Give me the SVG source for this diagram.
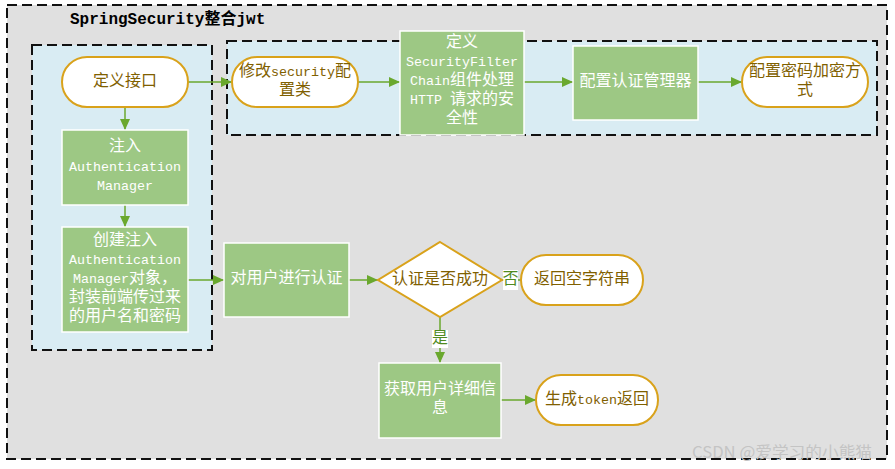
<svg xmlns="http://www.w3.org/2000/svg" width="895" height="469" viewBox="0 0 895 469">
<defs>
<style>
.grp{stroke:#111;stroke-width:2;stroke-dasharray:10,5}
.t{font-family:"Liberation Mono","Noto Sans CJK SC",monospace;font-size:16px;text-anchor:middle;dominant-baseline:central}
.l{font-size:13.33px}
.dark{fill:#7f6000}
.wh{fill:#ffffff}
.term{fill:#ffffff;stroke:#d9a21b;stroke-width:2}
.proc{fill:#9dc884;stroke:#ffffff;stroke-width:1.5}
.conn{stroke:#6aa82e;stroke-width:1.5;fill:none}
.lab{fill:#4f8a1f}
</style>
<marker id="arr" markerUnits="userSpaceOnUse" markerWidth="11" markerHeight="10" refX="11" refY="5" orient="auto">
<path d="M0,0 L11,5 L0,10 z" fill="#6aa82e"/>
</marker>
</defs>
<rect x="0" y="0" width="895" height="469" fill="#ffffff"/>
<g id="outer">
<rect x="7" y="5" width="880" height="454" fill="#e0e0e0" class="grp"/>
<text x="70" y="20" class="t" style="text-anchor:start;font-weight:bold" fill="#000">SpringSecurity整合jwt</text>
</g>
<g id="group-left"><rect x="32" y="45" width="180" height="305" fill="#d9ecf3" class="grp"/></g>
<g id="group-top"><rect x="227" y="41" width="650" height="94" fill="#d9ecf3" class="grp"/></g>

<g id="connectors">
<line x1="125" y1="107" x2="125" y2="130" class="conn" marker-end="url(#arr)"/>
<line x1="125" y1="205" x2="125" y2="227" class="conn" marker-end="url(#arr)"/>
<line x1="188" y1="82" x2="232" y2="82" class="conn" marker-end="url(#arr)"/>
<line x1="358" y1="82" x2="400" y2="82" class="conn" marker-end="url(#arr)"/>
<line x1="524" y1="82" x2="573" y2="82" class="conn" marker-end="url(#arr)"/>
<line x1="698" y1="82" x2="742" y2="82" class="conn" marker-end="url(#arr)"/>
<line x1="188" y1="280" x2="224" y2="280" class="conn" marker-end="url(#arr)"/>
<line x1="349" y1="280" x2="378" y2="280" class="conn" marker-end="url(#arr)"/>
<line x1="502" y1="280" x2="521" y2="280" class="conn"/>
<line x1="440" y1="317" x2="440" y2="363" class="conn" marker-end="url(#arr)"/>
<line x1="501" y1="400" x2="536" y2="400" class="conn" marker-end="url(#arr)"/>
<rect x="503" y="270" width="15" height="20" fill="#ffffff"/>
<text x="510.5" y="280" class="t lab">否</text>
<rect x="432" y="330" width="16" height="18" fill="#ffffff"/>
<text x="440" y="339" class="t lab">是</text>
</g>

<g id="n-define-interface">
<rect x="62" y="57" width="126" height="50" rx="25" class="term"/>
<text x="125" y="82" class="t dark">定义接口</text>
</g>
<g id="n-inject-am">
<rect x="62" y="130" width="126" height="75" class="proc"/>
<text x="125" y="147" class="t wh">注入</text>
<text x="125" y="167" class="t wh"><tspan class="l">Authentication</tspan></text>
<text x="125" y="186" class="t wh"><tspan class="l">Manager</tspan></text>
</g>
<g id="n-create-am">
<rect x="62" y="227" width="126" height="105" class="proc"/>
<text x="125" y="241" class="t wh">创建注入</text>
<text x="125" y="260" class="t wh"><tspan class="l">Authentication</tspan></text>
<text x="125" y="279" class="t wh"><tspan class="l">Manager</tspan>对象，</text>
<text x="125" y="298" class="t wh">封装前端传过来</text>
<text x="125" y="317" class="t wh">的用户名和密码</text>
</g>
<g id="n-modify-config">
<rect x="232" y="57" width="126" height="50" rx="25" class="term"/>
<text x="295" y="72" class="t dark">修改<tspan class="l">security</tspan>配</text>
<text x="295" y="91" class="t dark">置类</text>
</g>
<g id="n-filter-chain">
<rect x="400" y="31" width="124" height="104" class="proc"/>
<text x="462" y="43" class="t wh">定义</text>
<text x="462" y="62" class="t wh"><tspan class="l">SecurityFilter</tspan></text>
<text x="462" y="81" class="t wh"><tspan class="l">Chain</tspan>组件处理</text>
<text x="462" y="100" class="t wh"><tspan class="l">HTTP </tspan>请求的安</text>
<text x="462" y="118.5" class="t wh">全性</text>
</g>
<g id="n-auth-manager">
<rect x="573" y="46" width="125" height="74" class="proc"/>
<text x="635.5" y="82" class="t wh">配置认证管理器</text>
</g>
<g id="n-password">
<rect x="742" y="57" width="126" height="50" rx="25" class="term"/>
<text x="805" y="72" class="t dark">配置密码加密方</text>
<text x="805" y="90.5" class="t dark">式</text>
</g>
<g id="n-authenticate">
<rect x="224" y="243" width="125" height="74" class="proc"/>
<text x="286.5" y="279" class="t wh">对用户进行认证</text>
</g>
<g id="n-decision">
<polygon points="440,242 502,280 440,317 378,280" fill="#ffffff" stroke="#d9a21b" stroke-width="2"/>
<text x="440" y="280" class="t dark">认证是否成功</text>
</g>
<g id="n-return-empty">
<rect x="521" y="255" width="122" height="50" rx="25" class="term"/>
<text x="582" y="280" class="t dark">返回空字符串</text>
</g>
<g id="n-user-details">
<rect x="379" y="363" width="122" height="75" class="proc"/>
<text x="440" y="390" class="t wh">获取用户详细信</text>
<text x="440" y="408.5" class="t wh">息</text>
</g>
<g id="n-token">
<rect x="536" y="375" width="122" height="50" rx="25" class="term"/>
<text x="597" y="400" class="t dark">生成<tspan class="l">token</tspan>返回</text>
</g>
<text x="692" y="458" font-family="Noto Sans CJK SC, sans-serif" font-size="16" fill="#c4c4c4" textLength="180" lengthAdjust="spacingAndGlyphs">CSDN @爱学习的小熊猫</text>
</svg>
